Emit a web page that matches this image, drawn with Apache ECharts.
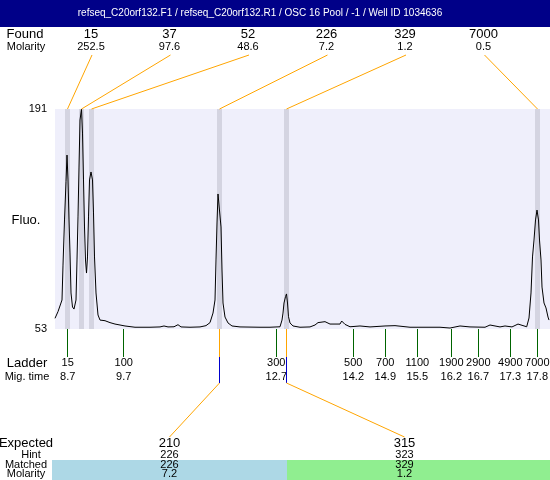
<!DOCTYPE html>
<html>
<head>
<meta charset="utf-8">
<script src="https://cdn.jsdelivr.net/npm/echarts@6/dist/echarts.min.js"></script>
<style>
  html, body { margin: 0; padding: 0; background: #fff; }
  #chart { width: 550px; height: 480px; }
</style>
</head>
<body>
<div id="chart"></div>
<script>
// header
var titleText = 'refseq_C20orf132.F1 / refseq_C20orf132.R1 / OSC 16 Pool / -1 / Well ID 1034636';

// electropherogram trace (position along run, fluorescence)
var traceX = [0, 3, 5, 7, 8, 9.5, 11, 12, 13, 14, 15, 16, 17.5, 19, 21, 22, 23, 24, 25, 26.5,
  27.5, 28.5, 29.5, 30.5, 31.5, 32.5, 33.5, 34.5, 36, 37.5, 38.5, 39.5, 41, 43, 45, 50, 55, 60,
  65, 70, 80, 95, 105, 109, 113, 119, 123, 126, 135, 145, 151, 155, 158, 160, 161, 162, 163,
  165, 166, 167, 168, 170, 173, 177, 185, 205, 215, 225, 227, 228, 229, 230.5, 231.5, 232.5,
  233.5, 235, 238, 245, 255, 260, 263, 270, 275, 285, 286.7, 290, 295, 305, 315, 330, 340,
  355, 385, 395, 405, 415, 430, 435, 445, 450, 457, 463, 471.7, 474, 476, 477.5, 479, 480.5,
  482, 483.5, 484.5, 486, 487, 489, 491, 493, 494];
var traceY = [59.7, 63.9, 64.9, 71.2, 93.1, 121.4, 145.4, 162.1, 146.5, 121.4, 100.7, 75.6, 66.8,
  65.5, 71.2, 96.3, 123.3, 154.6, 184.1, 191, 175.9, 146.5, 117, 96.3, 88.1, 98.2, 123.3, 146.5,
  151.5, 146.5, 125.8, 98.2, 75.6, 61.8, 58.6, 58.2, 57.0, 56.1, 55.5, 54.9, 54.1, 54.1, 54.3,
  54.9, 54.3, 54.4, 55.7, 54.3, 54.1, 54.3, 55.1, 57.0, 63.0, 71.2, 96.3, 119.5, 137.7, 137.7,
  117, 90, 69.3, 60.5, 56.8, 54.9, 54.3, 54.1, 54.1, 54.4, 58.6, 63.0, 69.3, 73.3, 75, 69.3,
  60.7, 56.8, 54.9, 54.1, 54.3, 55.5, 57.0, 57.6, 56.1, 56.1, 58, 55.9, 54.4, 54.9, 54.3, 54.9,
  55.1, 54.1, 54.1, 53.6, 54.9, 54.3, 54.1, 55.5, 54.3, 54.9, 54.3, 56.1, 54.4, 59.9, 75.6,
  98.2, 108.8, 121.4, 127.6, 121.4, 108.8, 96.3, 79.3, 69.3, 66.2, 60.5, 58.6];

// found peaks
var foundSizes = ['15', '37', '52', '226', '329', '7000'];
var foundMolarity = ['252.5', '97.6', '48.6', '7.2', '1.2', '0.5'];
var foundPos = [12.5, 26.5, 36.5, 164.5, 231.5, 482.5];

// ladder
var ladderSizes = ['15', '100', '300', '500', '700', '1100', '1900', '2900', '4900', '7000'];
var ladderTimes = ['8.7', '9.7', '12.7', '14.2', '14.9', '15.5', '16.2', '16.7', '17.3', '17.8'];
var ladderPos = [12.7, 68.7, 221.3, 298.3, 330.3, 362.3, 396.3, 423.3, 455.3, 482.3];

// expected products
var expectedSizes = ['210', '315'];
var hintSizes = ['226', '323'];
var matchedSizes = ['226', '329'];
var matchedMolarity = ['7.2', '1.2'];
var matchedPos = [164.5, 231.5];
var matchedColors = ['#add8e6', '#90ee90'];

var yMin = 53, yMax = 191;
var FONT = '"Liberation Sans", Arial, sans-serif';
var ORANGE = '#ffa500';

var traceData = traceX.map(function (x, i) { return [x, traceY[i]]; });

function txt(x, y, s, size, align) {
  return {
    type: 'text',
    style: { x: x, y: y, text: s, fontSize: size, fontFamily: FONT, fill: '#000',
      align: align || 'center', verticalAlign: 'middle' }
  };
}
function seg(x1, y1, x2, y2, color) {
  return {
    type: 'line',
    shape: { x1: x1, y1: y1, x2: x2, y2: y2 },
    style: { stroke: color, lineWidth: 1 }
  };
}

var myChart = echarts.init(document.getElementById('chart'));

var option = {
  animation: false,
  grid: {
    left: 55, right: 0, top: 109, bottom: 151,
    show: true, backgroundColor: '#efeffb', borderWidth: 0
  },
  xAxis: { type: 'value', min: 0, max: 495, show: false },
  yAxis: {
    type: 'value', min: yMin, max: yMax, interval: yMax - yMin,
    axisLine: { show: false }, axisTick: { show: false }, splitLine: { show: false },
    axisLabel: { fontSize: 11, fontFamily: FONT, color: '#000', margin: 8 }
  },
  graphic: [
    { type: 'rect', shape: { x: 0, y: 0, width: 550, height: 27 }, style: { fill: '#000088' } },
    { type: 'text', style: { x: 260, y: 13.5, text: titleText, fontSize: 10, fontFamily: FONT,
      fill: '#fff', align: 'center', verticalAlign: 'middle' } },
    txt(25, 34, 'Found', 13),
    txt(26, 47, 'Molarity', 11),
    txt(26, 220, 'Fluo.', 13),
    txt(27, 363, 'Ladder', 13),
    txt(27, 377, 'Mig. time', 11),
    txt(26, 443, 'Expected', 13),
    txt(31, 455, 'Hint', 11),
    txt(26, 465, 'Matched', 11),
    txt(26, 474, 'Molarity', 11)
  ],
  series: [
    {
      // highlighted peak bands
      type: 'custom', z: 1, clip: false,
      data: foundPos,
      renderItem: function (params, api) {
        var a = api.coord([api.value(0) - 2.5, yMax]);
        var b = api.coord([api.value(0) + 2.5, yMin]);
        return { type: 'rect', shape: { x: a[0], y: a[1], width: b[0] - a[0], height: b[1] - a[1] },
          style: { fill: '#d4d4e1' } };
      }
    },
    {
      type: 'line', z: 3,
      data: traceData,
      symbol: 'none',
      lineStyle: { color: '#000', width: 1 }
    },
    {
      // found peak labels and connectors
      type: 'custom', z: 4, clip: false,
      data: foundPos,
      renderItem: function (params, api) {
        var i = params.dataIndex;
        var p = api.coord([api.value(0), yMax]);
        var lx = 91 + i * 78.5;
        return { type: 'group', children: [
          seg(lx + 1, 55, p[0], p[1], ORANGE),
          txt(lx, 34, foundSizes[i], 13),
          txt(lx, 47, foundMolarity[i], 11)
        ] };
      }
    },
    {
      // ladder ticks
      type: 'custom', z: 4, clip: false,
      data: ladderPos,
      renderItem: function (params, api) {
        var i = params.dataIndex;
        var p = api.coord([api.value(0), yMin]);
        var x = Math.floor(p[0]) + 0.5;
        return { type: 'group', children: [
          seg(x, p[1], x, 357, '#006400'),
          txt(p[0], 363, ladderSizes[i], 11),
          txt(p[0], 377, ladderTimes[i], 11)
        ] };
      }
    },
    {
      // matched expected products
      type: 'custom', z: 4, clip: false,
      data: matchedPos,
      renderItem: function (params, api) {
        var i = params.dataIndex;
        var p = api.coord([api.value(0), yMin]);
        var x = Math.floor(p[0]) + 0.5;
        var bx = 52 + i * 235;
        var bw = i === matchedPos.length - 1 ? 550 - bx : 235;
        var ex = bx + 117.5;
        return { type: 'group', children: [
          seg(x, p[1], x, 357, ORANGE),
          seg(x, 357, x, 383, '#0000cc'),
          seg(x, 383, ex, 437, ORANGE),
          txt(ex, 443, expectedSizes[i], 13),
          txt(ex, 455, hintSizes[i], 11),
          { type: 'rect', shape: { x: bx, y: 460, width: bw, height: 20 },
            style: { fill: matchedColors[i] } },
          txt(ex, 465, matchedSizes[i], 11),
          txt(ex, 474, matchedMolarity[i], 11)
        ] };
      }
    }
  ]
};

myChart.setOption(option);
</script>
</body>
</html>
